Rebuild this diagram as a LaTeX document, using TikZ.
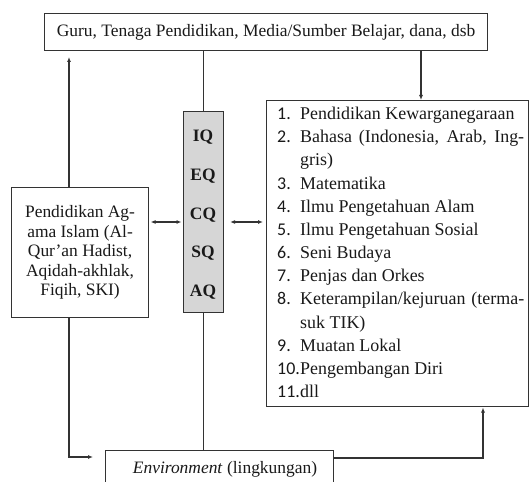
\documentclass[tikz,border=0pt]{standalone}
\usepackage{fontspec}
\setmainfont{Liberation Serif}
\newfontfamily\numf{Carlito}
\usetikzlibrary{arrows.meta}
\definecolor{linec}{HTML}{333333}
\definecolor{qfill}{HTML}{D6D6D6}
\begin{document}
\begin{tikzpicture}[x=1bp,y=-1bp]
\useasboundingbox (0,0) rectangle (529,482);
\tikzset{
 box/.style={draw=linec, line width=1.1bp, inner sep=0pt, anchor=north west, fill=white},
 conn/.style={draw=linec, line width=1.1bp},
 arr/.style={conn, -{Latex[length=5bp,width=4bp]}},
 darr/.style={conn, {Latex[length=5bp,width=4bp]}-{Latex[length=5bp,width=4bp]}},
 txt/.style={font=\fontsize{17.5}{19.5}\selectfont, align=center, inner sep=0pt, text=black!90},
 qlab/.style={font=\fontsize{17.5}{19}\selectfont\bfseries, inner sep=0pt, text=black!90}
}
\newcommand{\nb}[1]{\makebox[23bp][l]{\numf #1}}
% boxes
\node[box, minimum width=443bp, minimum height=37bp] (top) at (44,13) {};
\node[txt] (toptext) at (top.center) {Guru, Tenaga Pendidikan, Media/Sumber Belajar, dana, dsb};

\node[box, minimum width=137bp, minimum height=130bp] (pai) at (11,187) {};
\node[txt] (paitext) at (pai.center) {Pendidikan Ag-\\ama Islam (Al-\\Qur’an Hadist,\\Aqidah-akhlak,\\Fiqih, SKI)};

\node[box, fill=qfill, minimum width=40bp, minimum height=201bp] (q) at (183,111) {};
\node[qlab] (iq) at (203,137) {IQ};
\node[qlab] (eq) at (203,176) {EQ};
\node[qlab] (cq) at (203,215) {CQ};
\node[qlab] (sq) at (203,253) {SQ};
\node[qlab] (aq) at (203,292) {AQ};

\node[box, minimum width=262bp, minimum height=306bp] (list) at (266,100) {};
\node[anchor=north west, inner sep=0pt, align=left, text=black!90,
      font=\fontsize{18}{23.25}\selectfont] (listtext) at (277,107) {%
\nb{1.}Pendidikan Kewarganegaraan\\
\nb{2.}\makebox[224bp][s]{Bahasa (Indonesia, Arab, Ing-}\\
\hspace*{23bp}gris)\\
\nb{3.}Matematika\\
\nb{4.}Ilmu Pengetahuan Alam\\
\nb{5.}Ilmu Pengetahuan Sosial\\
\nb{6.}Seni Budaya\\
\nb{7.}Penjas dan Orkes\\
\nb{8.}\makebox[224bp][s]{Keterampilan/kejuruan (terma-}\\
\hspace*{23bp}suk TIK)\\
\nb{9.}Muatan Lokal\\
\nb{10.}Pengembangan Diri\\
\nb{11.}dll};

\node[box, minimum width=228bp, minimum height=45bp] (env) at (105,450) {};
\node[txt] (envtext) at (225,469) {\textit{Environment} (lingkungan)};

% helper coordinates
\coordinate (xL) at (69,0);
\coordinate (xR) at (421,0);
\coordinate (upTip) at (69,57);
\coordinate (yM) at (0,222);
\coordinate (envIn) at (93,457);
\coordinate (yE) at (0,458);
\coordinate (listIn) at (483,407.5);

% connectors
\draw[arr] (pai.north -| xL) -- (upTip);
\draw[conn] (top.south -| q.north) -- (q.north);
\draw[arr] (top.south -| xR) -- (list.north -| xR);
\draw[darr, shorten <=1.5bp, shorten >=1.5bp] (pai.east |- yM) -- (q.west |- yM);
\draw[darr, shorten <=6bp, shorten >=3bp] (q.east |- yM) -- (list.west |- yM);
\draw[arr] (pai.south -| xL) |- (envIn);
\draw[conn] (q.south) -- (q.south |- env.north);
\draw[arr] (env.east |- yE) -| (listIn);
\end{tikzpicture}
\end{document}
